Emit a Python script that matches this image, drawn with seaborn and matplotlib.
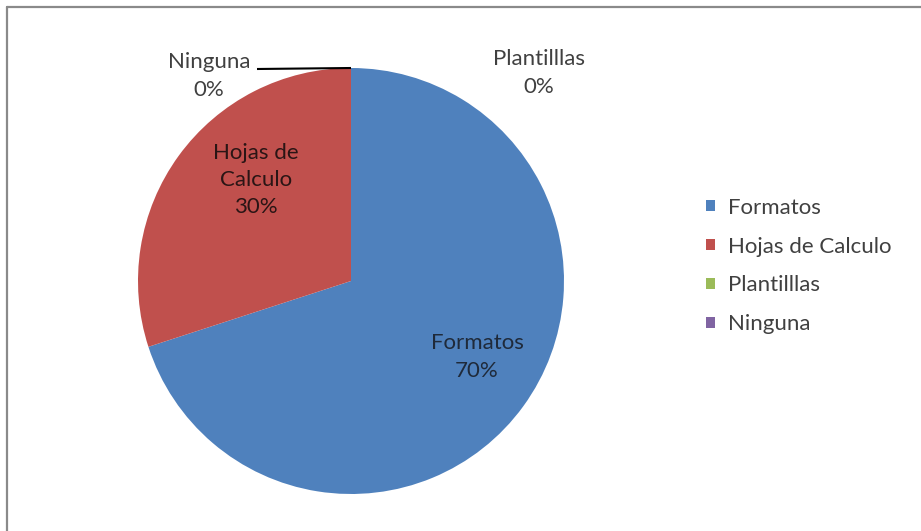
import matplotlib
matplotlib.use("Agg")
import matplotlib.pyplot as plt
import seaborn as sns
from matplotlib.lines import Line2D

categories = ["Formatos", "Hojas de Calculo", "Plantilllas", "Ninguna"]
values = [70, 30, 0, 0]
label_texts = ["Formatos\n70%", "Hojas de\nCalculo\n30%", "Plantilllas\n0%", "Ninguna\n0%"]
colors = ["#4F81BD", "#C0504D", "#9BBB59", "#8064A2"]

sns.set_theme(style="white")
plt.rcParams['font.family'] = ['Lato', 'DejaVu Sans']

W, H = 921, 531
fig = plt.figure(figsize=(W / 100, H / 100), dpi=100)
fig.patch.set_facecolor("white")

# frame lines (top and left)
fig.add_artist(Line2D([7 / W, 1.0], [1 - 7 / H, 1 - 7 / H], transform=fig.transFigure,
                      color="#8a8a8a", lw=1.6))
fig.add_artist(Line2D([7 / W, 7 / W], [0.0, 1 - 7 / H], transform=fig.transFigure,
                      color="#8a8a8a", lw=1.6))

cx, cy, r = 351, 281, 213
ax = fig.add_axes([(cx - r) / W, (H - cy - r) / H, 2 * r / W, 2 * r / H])
pal = sns.color_palette(colors)
wedges, _ = ax.pie(values, colors=pal, startangle=90, counterclock=False,
                   radius=1.0, wedgeprops=dict(linewidth=0))
ax.set_xlim(-1, 1)
ax.set_ylim(-1, 1)
ax.set_aspect("auto")
ax.axis("off")

fs = 16
ls = 1.45
def px(x, y):
    return ((x - cx) / r, (cy - y) / r)

ax.text(*px(477, 357), label_texts[0], ha="center", va="center", fontsize=fs,
        color="#1f2a3a", linespacing=ls)
ax.text(*px(256, 180), label_texts[1], ha="center", va="center", fontsize=fs,
        color="#2a1515", linespacing=ls)
ax.text(*px(539, 73), label_texts[2], ha="center", va="center", fontsize=fs,
        color="#404040", linespacing=ls, clip_on=False)
ax.text(*px(209, 76), label_texts[3], ha="center", va="center", fontsize=fs,
        color="#404040", linespacing=ls, clip_on=False)
ax.plot([px(257, 69)[0], 0], [px(257, 69)[1], 1.0], color="black", lw=1.5,
        clip_on=False, solid_capstyle="butt")

leg = fig.legend(wedges, categories, loc="center left",
                 bbox_to_anchor=(706 / W, 1 - 266 / H), frameon=False,
                 fontsize=fs, handlelength=0.42, handleheight=0.42,
                 handletextpad=0.55, labelspacing=0.85, borderpad=0, borderaxespad=0)
for t in leg.get_texts():
    t.set_color("#404040")

fig.savefig("out.png", dpi=100, facecolor="white")
